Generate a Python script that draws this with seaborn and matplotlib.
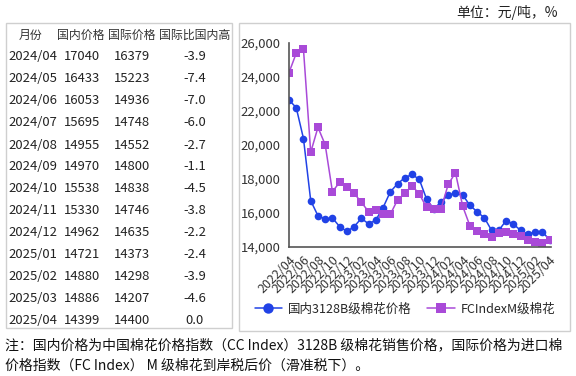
import matplotlib
matplotlib.use("Agg")
import matplotlib.pyplot as plt
from matplotlib.patches import Rectangle
from matplotlib.ticker import FuncFormatter
import pandas as pd
import seaborn as sns

# monthly series, 2022/04 .. 2025/04
months = ["2022/04", "2022/05", "2022/06", "2022/07", "2022/08", "2022/09", "2022/10",
          "2022/11", "2022/12", "2023/01", "2023/02", "2023/03", "2023/04", "2023/05",
          "2023/06", "2023/07", "2023/08", "2023/09", "2023/10", "2023/11", "2023/12",
          "2024/01", "2024/02", "2024/03", "2024/04", "2024/05", "2024/06", "2024/07",
          "2024/08", "2024/09", "2024/10", "2024/11", "2024/12", "2025/01", "2025/02",
          "2025/03", "2025/04"]
domestic = [22630, 22180, 20360, 16710, 15820, 15630, 15690, 15180, 14900, 15180,
            15670, 15340, 15570, 16300, 17230, 17700, 18060, 18250, 17960, 16810,
            16220, 16630, 17040, 17140, 17040, 16433, 16053, 15695, 14955, 14970,
            15538, 15330, 14962, 14721, 14880, 14886, 14399]
international = [24240, 25380, 25610, 19550, 21020, 20000, 17240, 17790, 17490, 17140,
                 16610, 16060, 16160, 15910, 15910, 16750, 17140, 17590, 17100, 16320,
                 16200, 16220, 17670, 18350, 16379, 15223, 14936, 14748, 14552, 14800,
                 14838, 14746, 14635, 14373, 14298, 14207, 14400]

# table on the left
table_header = ["月份", "国内价格", "国际价格", "国际比国内高"]
table_months = months[24:]
table_dom = domestic[24:]
table_intl = international[24:]
table_diff = ["-3.9", "-7.4", "-7.0", "-6.0", "-2.7", "-1.1", "-4.5", "-3.8", "-2.2",
              "-2.4", "-3.9", "-4.6", "0.0"]

series_names = ["国内3128B级棉花价格", "FCIndexM级棉花"]
unit_text = "单位：元/吨，%"
note_lines = ["注：国内价格为中国棉花价格指数（CC Index）3128B 级棉花销售价格，国际价格为进口棉",
              "价格指数（FC Index） M 级棉花到岸税后价（滑准税下）。"]

BLUE = "#2142e6"
PURPLE = "#a94ad8"
W, H = 576, 376

sns.set_style("white")
plt.rcParams["font.family"] = ["Noto Sans CJK SC", "DejaVu Sans"]


def fx(x):
    return x / W


def fy(y):
    return 1 - y / H


fig = plt.figure(figsize=(W / 100, H / 100), dpi=100)

# frames
for x0, y0, x1, y1 in [(6, 23, 232, 328), (239, 23, 570, 331)]:
    fig.patches.append(Rectangle((fx(x0), fy(y1)), fx(x1 - x0), (y1 - y0) / H,
                                 transform=fig.transFigure, fill=False,
                                 edgecolor="#cfcfcf", linewidth=1.0))

# table text
col_x = [31, 81, 132, 195]
fs_head = 8.6
fs_num = 9.4
for cx, h in zip(col_x, table_header):
    fig.text(fx(cx), fy(35), h, ha="center", va="center", fontsize=fs_head, color="#333333")
for i in range(len(table_months)):
    y = fy(57 + i * 22.0)
    fig.text(fx(8), y, table_months[i], ha="left", va="center", fontsize=fs_num, color="#222222")
    fig.text(fx(82), y, str(table_dom[i]), ha="center", va="center", fontsize=fs_num, color="#222222")
    fig.text(fx(132), y, str(table_intl[i]), ha="center", va="center", fontsize=fs_num, color="#222222")
    fig.text(fx(195), y, table_diff[i], ha="center", va="center", fontsize=fs_num, color="#222222")

# line chart
df = pd.DataFrame({"idx": list(range(len(months))) * 2,
                   "price": domestic + international,
                   "series": [series_names[0]] * len(months) + [series_names[1]] * len(months)})

ax = fig.add_axes([fx(289), fy(246.7), fx(551 - 289), (246.7 - 42.7) / H])
sns.lineplot(data=df, x="idx", y="price", hue="series", style="series",
             markers=["o", "s"], dashes=False, palette=[BLUE, PURPLE],
             markersize=5.5, linewidth=1.1, markeredgewidth=0, ax=ax)

ax.set_ylim(14000, 26000)
ax.set_yticks(range(14000, 26001, 2000))
ax.yaxis.set_major_formatter(FuncFormatter(lambda v, p: f"{int(v):,}"))
ax.set_xlim(0, len(months) - 1 + 0.2)
ax.set_xticks(range(len(months)), minor=True)
ax.set_xticks(range(0, len(months), 2))
ax.set_xticklabels(months[::2], rotation=45, ha="right", rotation_mode="anchor")
ax.tick_params(axis="x", which="both", direction="out", length=4, width=1, color="#555555",
               labelsize=9, pad=1, labelcolor="#333333")
ax.tick_params(axis="y", direction="out", length=4, width=1, color="#555555",
               labelsize=9.4, pad=2, labelcolor="#333333")
ax.set_xlabel("")
ax.set_ylabel("")
sns.despine(ax=ax)
for s in ["left", "bottom"]:
    ax.spines[s].set_color("#555555")
    ax.spines[s].set_linewidth(1.2)

handles, labels = ax.get_legend_handles_labels()
for h in handles:
    h.set_markersize(7.5)
ax.legend(handles, labels, loc="center", bbox_to_anchor=(fx(405), fy(309)),
          bbox_transform=fig.transFigure, ncol=2, frameon=False, fontsize=9,
          handlelength=2.2, columnspacing=1.2, handletextpad=0.5)

fig.text(fx(558), fy(13), unit_text, ha="right", va="center", fontsize=10, color="#222222")
fig.text(fx(5), fy(345), note_lines[0], ha="left", va="center", fontsize=10, color="#111111")
fig.text(fx(5), fy(366), note_lines[1], ha="left", va="center", fontsize=10, color="#111111")

fig.savefig("out.png", dpi=100)
